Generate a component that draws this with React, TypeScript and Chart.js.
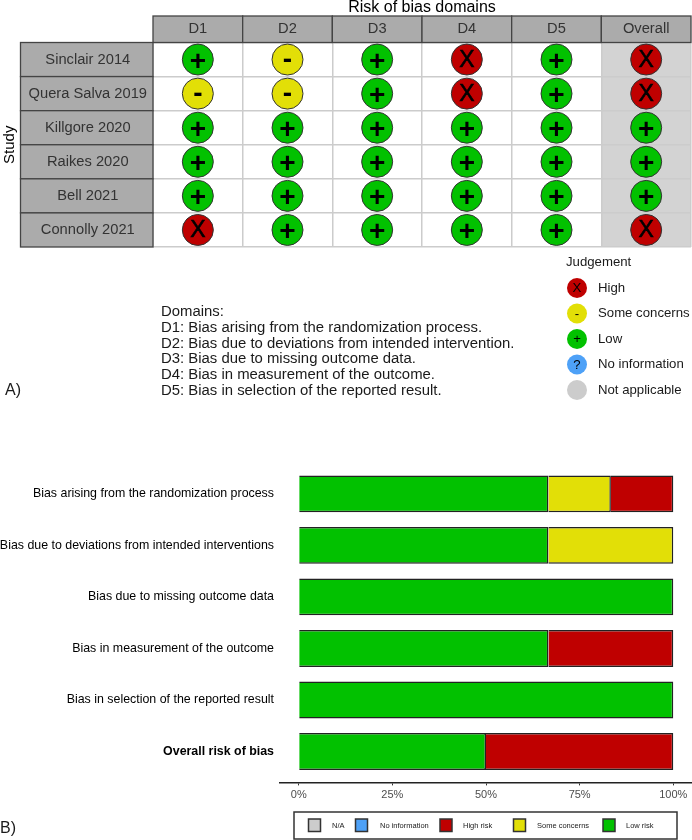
import React, { useEffect, useRef } from "react";
import { Chart, registerables } from "chart.js";

Chart.register(...registerables);

const FONT = '"Liberation Sans", Arial, sans-serif';

// Panel A: traffic-light data
const studies = ["Sinclair 2014", "Quera Salva 2019", "Killgore 2020", "Raikes 2020", "Bell 2021", "Connolly 2021"];
const domains = ["D1", "D2", "D3", "D4", "D5", "Overall"];
const d1 = ["Low", "Some concerns", "Low", "Low", "Low", "High"];
const d2 = ["Some concerns", "Some concerns", "Low", "Low", "Low", "Low"];
const d3 = ["Low", "Low", "Low", "Low", "Low", "Low"];
const d4 = ["High", "High", "Low", "Low", "Low", "Low"];
const d5 = ["Low", "Low", "Low", "Low", "Low", "Low"];
const overall = ["High", "High", "Low", "Low", "Low", "High"];
const judgementColumns = [d1, d2, d3, d4, d5, overall];

const judgementLevels = ["High", "Some concerns", "Low", "No information", "Not applicable"];
const judgementSymbols = ["X", "-", "+", "?", ""];
const judgementColors = ["#BF0000", "#E2DF07", "#02C100", "#4EA1F7", "#cccccc"];

const domainNotes = [
  "Domains:",
  "D1: Bias arising from the randomization process.",
  "D2: Bias due to deviations from intended intervention.",
  "D3: Bias due to missing outcome data.",
  "D4: Bias in measurement of the outcome.",
  "D5: Bias in selection of the reported result.",
];

// Panel B: summary data
const summaryCategories = [
  "Bias arising from the randomization process",
  "Bias due to deviations from intended interventions",
  "Bias due to missing outcome data",
  "Bias in measurement of the outcome",
  "Bias in selection of the reported result",
  "Overall risk of bias",
];
const lowRisk = [66.67, 66.67, 100, 66.67, 100, 50];
const someConcerns = [16.67, 33.33, 0, 0, 0, 0];
const highRisk = [16.67, 0, 0, 33.33, 0, 50];
const noInformation = [0, 0, 0, 0, 0, 0];
const notApplicable = [0, 0, 0, 0, 0, 0];
const percentTicks = [0, 25, 50, 75, 100];

function band(scale: any) {
  return Math.abs(scale.getPixelForTick(1) - scale.getPixelForTick(0));
}

const panelAPlugin = {
  id: "panelA",
  beforeDraw(chart: any) {
    const { ctx, chartArea, scales } = chart;
    const b = band(scales.x);
    const cx = scales.x.getPixelForTick(5);
    ctx.save();
    ctx.fillStyle = "#d3d3d3";
    ctx.fillRect(cx - b / 2, chartArea.top, b, chartArea.bottom - chartArea.top);
    ctx.restore();
  },
  beforeDatasetsDraw(chart: any) {
    const { ctx, chartArea, scales } = chart;
    ctx.save();
    ctx.fillStyle = "#ababab";
    ctx.strokeStyle = "#444444";
    ctx.lineWidth = 1.3;
    const bx = band(scales.x);
    domains.forEach((_, i) => {
      const c = scales.x.getPixelForTick(i);
      ctx.fillRect(c - bx / 2, 16, bx, chartArea.top - 16);
      ctx.strokeRect(c - bx / 2, 16, bx, chartArea.top - 16);
    });
    const by = band(scales.y);
    studies.forEach((_, i) => {
      const c = scales.y.getPixelForTick(i);
      ctx.fillRect(20.5, c - by / 2, chartArea.left - 20.5, by);
      ctx.strokeRect(20.5, c - by / 2, chartArea.left - 20.5, by);
    });
    ctx.restore();
  },
  afterDatasetsDraw(chart: any) {
    const { ctx } = chart;
    ctx.save();
    ctx.fillStyle = "#000000";
    ctx.strokeStyle = "#000000";
    ctx.textAlign = "center";
    ctx.textBaseline = "middle";
    chart.data.datasets.forEach((ds: any, i: number) => {
      const sym = judgementSymbols[judgementLevels.indexOf(ds.label)];
      if (!sym) return;
      chart.getDatasetMeta(i).data.forEach((pt: any) => {
        if (sym === "X") {
          ctx.font = `normal 23px ${FONT}`;
          ctx.lineWidth = 0.6;
          ctx.fillText(sym, pt.x, pt.y + 1);
          ctx.strokeText(sym, pt.x, pt.y + 1);
        } else {
          ctx.font = `bold 28px ${FONT}`;
          ctx.fillText(sym, pt.x, pt.y + (sym === "+" ? 2.5 : 1));
        }
      });
    });
    // Judgement legend
    ctx.textAlign = "left";
    ctx.fillStyle = "#1a1a1a";
    ctx.font = `13.2px ${FONT}`;
    ctx.fillText("Judgement", 566, 262);
    judgementLevels.forEach((lvl, i) => {
      const y = 288 + i * 25.5;
      ctx.beginPath();
      ctx.arc(577, y, 10, 0, Math.PI * 2);
      ctx.fillStyle = judgementColors[i];
      ctx.fill();
      ctx.fillStyle = "#000000";
      ctx.textAlign = "center";
      ctx.fillText(judgementSymbols[i], 577, y + 0.5);
      ctx.textAlign = "left";
      ctx.fillStyle = "#1a1a1a";
      ctx.fillText(lvl, 598, y);
    });
    ctx.restore();
  },
};

const panelBPlugin = {
  id: "panelB",
  afterDraw(chart: any) {
    const { ctx } = chart;
    const items = [
      { label: "N/A", color: "#cccccc", x: 308.5, tx: 332 },
      { label: "No information", color: "#4EA1F7", x: 355.5, tx: 380 },
      { label: "High risk", color: "#BF0000", x: 440, tx: 463 },
      { label: "Some concerns", color: "#E2DF07", x: 513.5, tx: 537 },
      { label: "Low risk", color: "#02C100", x: 603, tx: 626 },
    ];
    const top = 392;
    ctx.save();
    ctx.fillStyle = "#ffffff";
    ctx.strokeStyle = "#333333";
    ctx.lineWidth = 1.5;
    ctx.fillRect(294, top, 383, 27);
    ctx.strokeRect(294, top, 383, 27);
    ctx.textBaseline = "middle";
    ctx.textAlign = "left";
    ctx.font = `7.5px ${FONT}`;
    items.forEach((it) => {
      ctx.fillStyle = it.color;
      ctx.fillRect(it.x, top + 7, 12, 12.5);
      ctx.strokeRect(it.x, top + 7, 12, 12.5);
      ctx.fillStyle = "#1a1a1a";
      ctx.fillText(it.label, it.tx, top + 13.5);
    });
    ctx.restore();
  },
};

export default function App() {
  const refA = useRef<HTMLCanvasElement>(null);
  const refB = useRef<HTMLCanvasElement>(null);

  useEffect(() => {
    const datasetsA = judgementLevels
      .map((level, li) => {
        const pts: any[] = [];
        judgementColumns.forEach((col, ci) =>
          col.forEach((j, si) => {
            if (j === level) pts.push({ x: domains[ci], y: studies[si] });
          })
        );
        return {
          label: level,
          data: pts,
          pointRadius: 15.5,
          pointHoverRadius: 15.5,
          pointBackgroundColor: judgementColors[li],
          pointBorderColor: "#333333",
          pointBorderWidth: 1,
          showLine: false,
        };
      })
      .filter((d) => d.data.length > 0);

    const chartA = new Chart(refA.current!, {
      type: "scatter",
      data: { datasets: datasetsA as any },
      plugins: [panelAPlugin],
      options: {
        animation: false,
        responsive: false,
        layout: { autoPadding: false, padding: { left: 0, right: 1, top: 0, bottom: 173 } },
        plugins: { legend: { display: false }, tooltip: { enabled: false } },
        scales: {
          x: {
            type: "category",
            labels: domains,
            position: "top",
            offset: true,
            afterFit: (s: any) => {
              s.height = 42.5;
              s.paddingLeft = 0;
              s.paddingRight = 0;
            },
            grid: { offset: true, color: "#cccccc", lineWidth: 1.5, drawTicks: false },
            border: { display: false },
            ticks: { z: 1, color: "#333333", padding: 5, maxRotation: 0, font: { family: FONT, size: 14.7 } },
            title: {
              display: true,
              text: "Risk of bias domains",
              color: "#000000",
              padding: 0,
              font: { family: FONT, size: 16, lineHeight: 0.9 },
            },
          },
          y: {
            type: "category",
            labels: studies,
            offset: true,
            afterFit: (s: any) => {
              s.width = 153;
              s.paddingTop = 0;
              s.paddingBottom = 0;
            },
            grid: { offset: true, color: "#cccccc", lineWidth: 1.5, drawTicks: false },
            border: { display: false },
            ticks: { z: 1, color: "#333333", padding: 6, crossAlign: "center", font: { family: FONT, size: 14.7 } },
            title: {
              display: true,
              text: "Study",
              color: "#000000",
              padding: { top: 2, bottom: 0 },
              font: { family: FONT, size: 15, lineHeight: 1 },
            },
          },
        },
      } as any,
    });

    const barSeries: [string, number[], string][] = [
      ["Low risk", lowRisk, "#02C100"],
      ["Some concerns", someConcerns, "#E2DF07"],
      ["High risk", highRisk, "#BF0000"],
      ["No information", noInformation, "#4EA1F7"],
      ["N/A", notApplicable, "#cccccc"],
    ];

    const chartB = new Chart(refB.current!, {
      type: "bar",
      data: {
        datasets: barSeries.map(([label, values, color]) => ({
          label,
          data: values.map((v, i) => ({ x: v, y: i + 1 })),
          backgroundColor: color,
          borderColor: "#222222",
          borderWidth: 1.5,
          categoryPercentage: 1,
          barPercentage: 0.715,
        })),
      },
      plugins: [panelBPlugin],
      options: {
        indexAxis: "y",
        animation: false,
        responsive: false,
        layout: { padding: { left: 0, right: 0, top: 43, bottom: 27.6 } },
        plugins: { legend: { display: false }, tooltip: { enabled: false } },
        scales: {
          x: {
            type: "linear",
            stacked: true,
            min: -5,
            max: 105,
            afterBuildTicks: (s: any) => {
              s.ticks = percentTicks.map((value) => ({ value }));
            },
            afterFit: (s: any) => {
              s.height = 30;
              s.paddingLeft = 0;
              s.paddingRight = 0;
            },
            grid: { drawOnChartArea: false, tickLength: 3, tickColor: "#333333", tickWidth: 1 },
            border: { color: "#222222", width: 1.5 },
            ticks: {
              color: "#4d4d4d",
              padding: 3,
              maxRotation: 0,
              font: { family: FONT, size: 11 },
              callback: (v: any) => `${v}%`,
            },
          },
          y: {
            type: "linear",
            stacked: true,
            reverse: true,
            offset: false,
            min: 0.4,
            max: 6.6,
            afterBuildTicks: (s: any) => {
              s.ticks = summaryCategories.map((_, i) => ({ value: i + 1 }));
            },
            afterFit: (s: any) => {
              s.width = 280;
              s.paddingTop = 0;
              s.paddingBottom = 0;
            },
            grid: { display: false, drawTicks: false },
            border: { display: false },
            ticks: {
              color: "#000000",
              padding: 6,
              font: (c: any) => ({
                family: FONT,
                size: 12.4,
                weight: c.index === 5 ? "bold" : "normal",
              }),
              callback: (v: any) => summaryCategories[Number(v) - 1],
            },
          },
        },
      } as any,
    });

    return () => {
      chartA.destroy();
      chartB.destroy();
    };
  }, []);

  const abs: React.CSSProperties = { position: "absolute", display: "block" };
  return (
    <div style={{ position: "absolute", left: 0, top: 0, width: 692, height: 840, overflow: "hidden", background: "#fff", fontFamily: FONT, color: "#1a1a1a" }}>
      <canvas ref={refA} width={692} height={420} style={{ ...abs, left: 0, top: 0, width: 692, height: 420 }} />
      <canvas ref={refB} width={692} height={420} style={{ ...abs, left: 0, top: 420, width: 692, height: 420 }} />
      <div style={{ ...abs, left: 161, top: 304, fontSize: 14.9, lineHeight: "15.8px", whiteSpace: "nowrap" }}>
        {domainNotes.map((n) => (
          <div key={n}>{n}</div>
        ))}
      </div>
      <div style={{ ...abs, left: 5, top: 381, fontSize: 16 }}>A)</div>
      <div style={{ ...abs, left: 0, top: 819, fontSize: 16 }}>B)</div>
    </div>
  );
}
